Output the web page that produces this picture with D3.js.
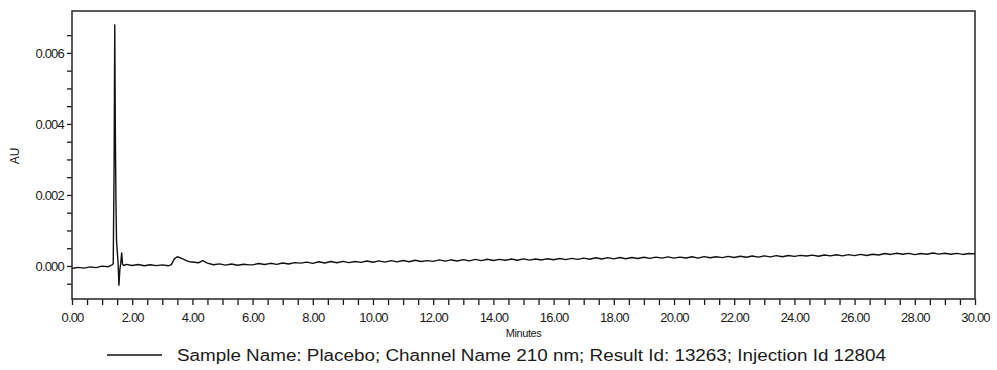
<!DOCTYPE html>
<html>
<head>
<meta charset="utf-8">
<script src="https://cdn.jsdelivr.net/npm/d3@7/dist/d3.min.js"></script>
<style>
  html, body { margin: 0; padding: 0; background: #fff; }
  svg { display: block; font-family: "Liberation Sans", Arial, sans-serif; }
</style>
</head>
<body>
<svg id="chart" width="997" height="370"></svg>
<script>
// Retention time (minutes)
const timeMin = [
  0.0, 0.2, 0.4, 0.6, 0.8, 1.0, 1.2, 1.30, 1.34, 1.37, 1.40, 1.42, 1.44, 1.46, 1.48, 1.50,
  1.53, 1.56, 1.59, 1.62, 1.65, 1.68, 1.72, 1.80, 2.0, 2.2, 2.4, 2.6, 2.8, 3.0, 3.2, 3.3,
  3.4, 3.5, 3.6, 3.7, 3.8, 3.9, 4.0, 4.2, 4.34, 4.5, 4.7, 4.9, 5.1, 5.3, 5.5, 5.7, 5.9,
  6.0, 6.2, 6.4, 6.6, 6.8, 7.0, 7.2, 7.4, 7.6, 7.8, 8.0, 8.2, 8.4, 8.6, 8.8, 9.0, 9.2, 9.4,
  9.6, 9.8, 10.0, 10.2, 10.4, 10.6, 10.8, 11.0, 11.2, 11.4, 11.6, 11.8, 12.0, 12.2, 12.4,
  12.6, 12.8, 13.0, 13.2, 13.4, 13.6, 13.8, 14.0, 14.2, 14.4, 14.6, 14.8, 15.0, 15.2, 15.4,
  15.6, 15.8, 16.0, 16.2, 16.4, 16.6, 16.8, 17.0, 17.2, 17.4, 17.6, 17.8, 18.0, 18.2, 18.4,
  18.6, 18.8, 19.0, 19.2, 19.4, 19.6, 19.8, 20.0, 20.2, 20.4, 20.6, 20.8, 21.0, 21.2, 21.4,
  21.6, 21.8, 22.0, 22.2, 22.4, 22.6, 22.8, 23.0, 23.2, 23.4, 23.6, 23.8, 24.0, 24.2, 24.4,
  24.6, 24.8, 25.0, 25.2, 25.4, 25.6, 25.8, 26.0, 26.2, 26.4, 26.6, 26.8, 27.0, 27.2, 27.4,
  27.6, 27.8, 28.0, 28.2, 28.4, 28.6, 28.8, 29.0, 29.2, 29.4, 29.6, 29.8, 30.0
];
// Absorbance in micro-AU
const absorbanceMicroAU = [
  -70, -40, -60, -25, -45, -5, -20, 20, 40, 60, 3000, 6790, 3800, 1800, 700, 450,
  100, -540, -100, 80, 370, 50, 10, 45, 15, 40, 5, 35, 10, 30, 5, 40,
  200, 260, 230, 190, 150, 120, 110, 90, 150, 80, 35, 60, 25, 55, 20, 50, 30,
  30, 70, 40, 75, 45, 85, 55, 95, 80, 110, 75, 120, 85, 125, 90, 130, 95, 125,
  100, 140, 105, 145, 110, 150, 115, 155, 120, 160, 125, 150, 130, 170, 135,
  170, 140, 180, 145, 185, 150, 190, 155, 185, 160, 195, 160, 200, 165, 195,
  170, 205, 175, 210, 180, 215, 185, 220, 190, 230, 195, 235, 200, 240, 205,
  240, 210, 245, 215, 250, 220, 255, 220, 250, 225, 260, 220, 265, 230, 260,
  235, 270, 240, 275, 245, 280, 250, 285, 255, 290, 260, 295, 270, 300, 280,
  305, 275, 310, 285, 315, 285, 320, 290, 325, 295, 330, 310, 350, 325, 360,
  330, 355, 320, 350, 330, 365, 335, 360, 330, 355, 325, 350, 340
];
const xTickLabels = ["0.00","2.00","4.00","6.00","8.00","10.00","12.00","14.00","16.00","18.00","20.00","22.00","24.00","26.00","28.00","30.00"];
const yTickLabels = ["0.000","0.002","0.004","0.006"];
const xAxisTitle = "Minutes";
const yAxisTitle = "AU";
const legendText = "Sample Name: Placebo; Channel Name 210 nm; Result Id: 13263; Injection Id 12804";

const svg = d3.select("#chart");
const plotLeft = 72, plotRight = 975, plotTop = 11, plotBottom = 299;

const x = d3.scaleLinear().domain([0, 30]).range([plotLeft, plotRight]);
const y = d3.scaleLinear().domain([-0.00093, 0.00718]).range([plotBottom, plotTop]);

const ink = "#1a1a1a";

// Minor + major ticks
const xTickVals = d3.range(0, 30.001, 0.5);
const yTickVals = d3.range(-0.0005, 0.00651, 0.0005);

const gx = svg.append("g").attr("transform", `translate(0,${plotBottom})`)
  .call(d3.axisBottom(x).tickValues(xTickVals).tickSize(6).tickSizeOuter(0)
    .tickFormat(d => {
      const s = d.toFixed(2);
      return (Math.abs(d % 2) < 1e-9 && xTickLabels.includes(s)) ? s : "";
    }));
gx.select(".domain").remove();
gx.selectAll("line").attr("stroke", ink).attr("stroke-width", 1.3);
gx.selectAll("text").attr("fill", ink).attr("font-size", 13).attr("letter-spacing", -0.8)
  .attr("dy", "1.1em").attr("font-family", "Liberation Sans, Arial, sans-serif");

const gy = svg.append("g").attr("transform", `translate(${plotLeft},0)`)
  .call(d3.axisLeft(y).tickValues(yTickVals).tickSize(5).tickSizeOuter(0)
    .tickFormat(d => {
      const s = d.toFixed(3);
      const k = Math.round(d * 10000);
      return (k % 20 === 0 && k >= 0 && yTickLabels.includes(s)) ? s : "";
    }));
gy.select(".domain").remove();
gy.selectAll("line").attr("stroke", ink).attr("stroke-width", 1.3);
gy.selectAll("text").attr("fill", ink).attr("font-size", 13).attr("letter-spacing", -0.8)
  .attr("x", -8).attr("font-family", "Liberation Sans, Arial, sans-serif");

// Frame
svg.append("rect")
  .attr("x", plotLeft).attr("y", plotTop)
  .attr("width", plotRight - plotLeft).attr("height", plotBottom - plotTop)
  .attr("fill", "none").attr("stroke", "#333").attr("stroke-width", 1.6);

// Trace
const data = timeMin.map((t, i) => ({ t, v: absorbanceMicroAU[i] / 1e6 }));
const line = d3.line().x(d => x(d.t)).y(d => y(d.v));
svg.append("path").datum(data)
  .attr("d", line)
  .attr("fill", "none").attr("stroke", "#111").attr("stroke-width", 1.4)
  .attr("stroke-linejoin", "round");

// Axis titles
svg.append("text").attr("x", (plotLeft + plotRight) / 2).attr("y", 337)
  .attr("text-anchor", "middle").attr("font-size", 11).attr("letter-spacing", -0.4)
  .attr("fill", ink).text(xAxisTitle);
svg.append("text").attr("transform", `translate(19,156) rotate(-90)`)
  .attr("text-anchor", "middle").attr("font-size", 12).attr("fill", ink).text(yAxisTitle);

// Legend
svg.append("line").attr("x1", 107).attr("x2", 162).attr("y1", 355).attr("y2", 355)
  .attr("stroke", "#111").attr("stroke-width", 1.5);
svg.append("text").attr("x", 177).attr("y", 361)
  .attr("font-size", 16).attr("fill", ink)
  .attr("textLength", 709).attr("lengthAdjust", "spacingAndGlyphs")
  .text(legendText);
</script>
</body>
</html>
